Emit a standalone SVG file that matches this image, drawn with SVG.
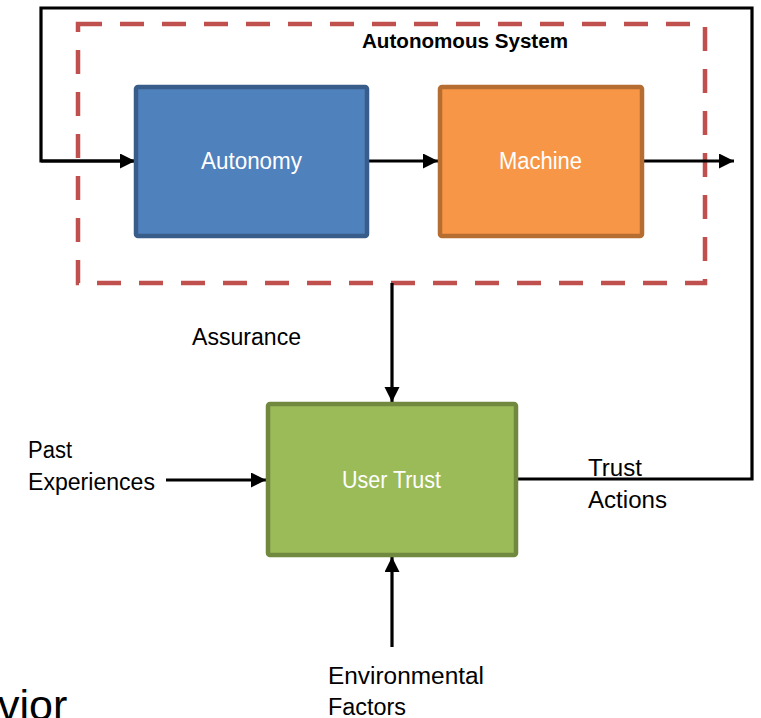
<svg xmlns="http://www.w3.org/2000/svg" width="761" height="718" viewBox="0 0 761 718">
<style>
.lbl{font-family:"Liberation Sans",Arial,sans-serif;font-size:23.5px;fill:#000}
.wl{font-family:"Liberation Sans",Arial,sans-serif;font-size:23px;fill:#fff;text-anchor:middle}
.con{fill:none;stroke:#000;stroke-width:3.2}
.arr{marker-end:url(#ah)}
</style>
<defs>
<marker id="ah" markerUnits="userSpaceOnUse" markerWidth="16" markerHeight="16" refX="15" refY="7.5" orient="auto">
<path d="M0,0 L15,7.5 L0,15 Z" fill="#000"/>
</marker>
</defs>
<rect width="761" height="718" fill="#fff"/>
<g id="autonomous-system">
<rect x="78" y="24" width="627" height="259" fill="none" stroke="#C0504D" stroke-width="4.5" stroke-dasharray="24,18"/>
<text x="362" y="48" textLength="206" lengthAdjust="spacingAndGlyphs" style="font-family:'Liberation Sans',Arial,sans-serif;font-size:20px;font-weight:bold">Autonomous System</text>
</g>
<g id="connectors">
<path class="con" d="M135,161 H41 V8 H752 V479 H517"/>
<path class="con arr" d="M41,161 H135"/>
<path class="con arr" d="M369,161 H438"/>
<path class="con arr" d="M644,161 H734"/>
<path class="con arr" d="M392,283 V402"/>
<path class="con arr" d="M166,480 H266"/>
<path class="con arr" d="M392,647 V557"/>
</g>
<g id="autonomy">
<rect x="136" y="87" width="231" height="149" rx="2" fill="#4F81BD" stroke="#385D8A" stroke-width="4.5"/>
<text class="wl" x="251.5" y="169" textLength="101" lengthAdjust="spacingAndGlyphs">Autonomy</text>
</g>
<g id="machine">
<rect x="440" y="87" width="202" height="149" rx="2" fill="#F79646" stroke="#B66D31" stroke-width="4.5"/>
<text class="wl" x="540.5" y="169" textLength="83" lengthAdjust="spacingAndGlyphs">Machine</text>
</g>
<g id="user-trust">
<rect x="268" y="404" width="248" height="151" rx="2" fill="#9BBB59" stroke="#71893F" stroke-width="4.5"/>
<text class="wl" x="391.5" y="488" textLength="99" lengthAdjust="spacingAndGlyphs">User Trust</text>
</g>
<g id="labels">
<text class="lbl" x="192" y="345" textLength="109" lengthAdjust="spacingAndGlyphs">Assurance</text>
<text class="lbl" x="28" y="458" textLength="44" lengthAdjust="spacingAndGlyphs">Past</text>
<text class="lbl" x="28" y="490" textLength="127" lengthAdjust="spacingAndGlyphs">Experiences</text>
<text class="lbl" x="588" y="476" textLength="54" lengthAdjust="spacingAndGlyphs">Trust</text>
<text class="lbl" x="588" y="508" textLength="79" lengthAdjust="spacingAndGlyphs">Actions</text>
<text class="lbl" x="328" y="684" textLength="156" lengthAdjust="spacingAndGlyphs">Environmental</text>
<text class="lbl" x="328" y="715" textLength="78" lengthAdjust="spacingAndGlyphs">Factors</text>
<text x="-2" y="720" style="font-family:'Liberation Sans',Arial,sans-serif;font-size:43px">vior</text>
</g>
</svg>
